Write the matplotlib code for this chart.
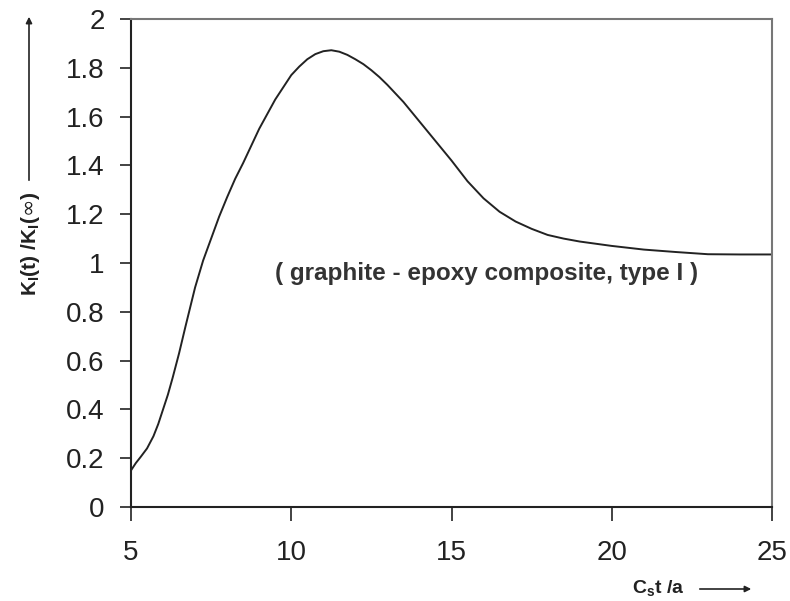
import matplotlib
matplotlib.use("Agg")
import matplotlib.pyplot as plt

plt.rcParams['font.family'] = ['Liberation Sans', 'DejaVu Sans']

# data
x_vals = [5.0, 5.15, 5.3, 5.5, 5.7, 5.85, 6.0, 6.15, 6.3, 6.5, 6.7, 6.85, 7.0, 7.25,
          7.5, 7.75, 8.0, 8.25, 8.5, 8.75, 9.0, 9.25, 9.5, 9.75, 10.0, 10.25, 10.5,
          10.75, 11.0, 11.25, 11.5, 11.75, 12.0, 12.25, 12.5, 12.75, 13.0, 13.5,
          14.0, 14.5, 15.0, 15.5, 16.0, 16.5, 17.0, 17.5, 18.0, 18.5, 19.0, 20.0,
          21.0, 22.0, 23.0, 24.0, 25.0]
y_vals = [0.15, 0.18, 0.205, 0.24, 0.29, 0.34, 0.40, 0.46, 0.53, 0.63, 0.74, 0.82,
          0.90, 1.01, 1.10, 1.19, 1.27, 1.345, 1.41, 1.48, 1.55, 1.61, 1.67, 1.72,
          1.77, 1.805, 1.835, 1.856, 1.868, 1.872, 1.866, 1.853, 1.835, 1.815, 1.79,
          1.762, 1.73, 1.66, 1.58, 1.50, 1.42, 1.335, 1.265, 1.21, 1.17, 1.14,
          1.115, 1.10, 1.088, 1.07, 1.055, 1.045, 1.036, 1.035, 1.035]
x_ticks = [5, 10, 15, 20, 25]
y_ticks = [0, 0.2, 0.4, 0.6, 0.8, 1.0, 1.2, 1.4, 1.6, 1.8, 2.0]
y_tick_labels = ['0', '0.2', '0.4', '0.6', '0.8', '1', '1.2', '1.4', '1.6', '1.8', '2']
annotation = "( graphite - epoxy composite, type I )"

fig = plt.figure(figsize=(7.9, 6.01), dpi=100)
ax = fig.add_axes([131/790, 1-507/601, (772-131)/790, (507-19)/601])

ax.plot(x_vals, y_vals, color='#222222', lw=1.4)
ax.set_xlim(5, 25)
ax.set_ylim(0, 2)
ax.set_xticks(x_ticks)
ax.set_yticks(y_ticks)
ax.set_yticklabels(y_tick_labels)
ax.tick_params(axis='both', labelsize=20, colors='#222222', length=8, width=1.2,
               direction='out')
ax.tick_params(axis='x', pad=14, length=10)
ax.tick_params(axis='y', pad=11)
for s in ['left', 'bottom']:
    ax.spines[s].set_color('#222222')
    ax.spines[s].set_linewidth(1.5)
for s in ['top', 'right']:
    ax.spines[s].set_color('#777777')
    ax.spines[s].set_linewidth(1.5)

ax.text(16.09, 0.955, annotation, fontsize=17.5, fontweight='bold', color='#333333',
        ha='center', va='center')

# y label with arrow
fig.text(30/790, 1-244/601, r"K$_\mathregular{I}$(t) /K$_\mathregular{I}$($\infty$)",
         rotation=90, fontsize=15, fontweight='bold', ha='center', va='center',
         color='#222222')
fig.add_artist(matplotlib.patches.FancyArrowPatch(
    (29/790, 1-183/601), (29/790, 1-14/601), transform=fig.transFigure,
    arrowstyle='-|>', mutation_scale=9, lw=1.2, color='#222222'))

# x label with arrow
fig.text(632/790, 1-589/601, r"C$_\mathregular{s}$t /a", fontsize=14,
         fontweight='bold', ha='left', va='center', color='#222222')
fig.add_artist(matplotlib.patches.FancyArrowPatch(
    (697/790, 1-589/601), (754/790, 1-589/601), transform=fig.transFigure,
    arrowstyle='-|>', mutation_scale=9, lw=1.2, color='#222222'))

fig.savefig("out.png", dpi=100)
